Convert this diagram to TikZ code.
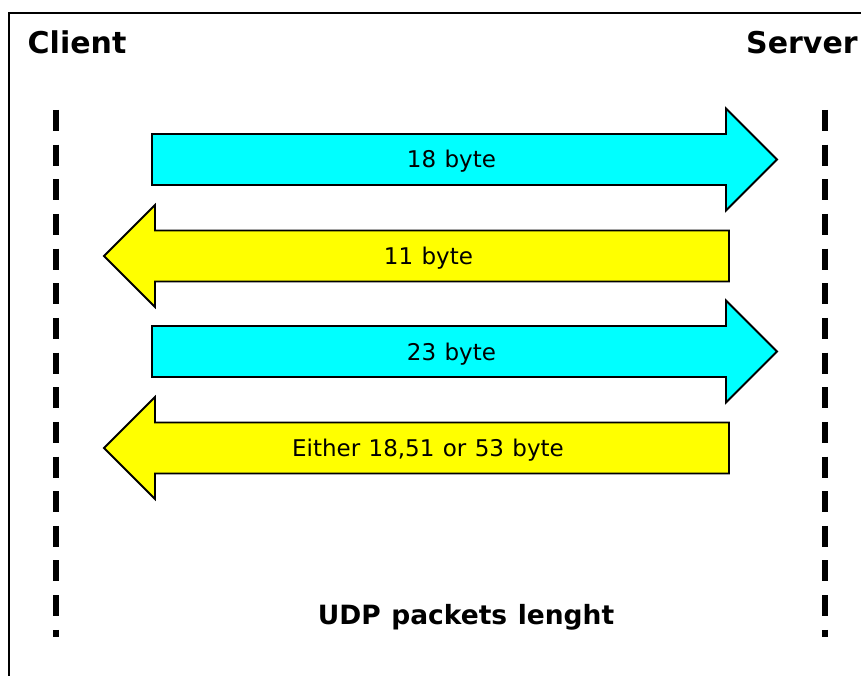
\documentclass[tikz,border=0pt]{standalone}
\usepackage{fontspec}
\setmainfont{DejaVu Sans}[WordSpace={1.15,1,1}]
\definecolor{pktcyan}{RGB}{0,255,255}
\definecolor{pktyellow}{RGB}{255,255,0}
\tikzset{
  frameline/.style={line width=2pt, draw=black},
  lifeline/.style={line width=5.5pt, draw=black, line cap=butt, dash pattern=on 21pt off 13.65pt},
  packet/.style={draw=black, line width=1.8pt, line join=miter},
  tocyan/.style={packet, fill=pktcyan},
  toyellow/.style={packet, fill=pktyellow},
  pktlabel/.style={anchor=base, inner sep=0pt, font=\fontsize{23}{27}\selectfont},
  endlabel/.style={anchor=base west, inner sep=0pt, font=\fontsize{30}{36}\selectfont\bfseries},
  caption/.style={anchor=base, inner sep=0pt, font=\fontsize{26.5}{32}\selectfont\bfseries}
}
\begin{document}
\begin{tikzpicture}[x=1pt, y=-1pt]
  \clip (0,0) rectangle (861,676);
  \fill[white] (0,0) rectangle (861,676);

  % outer frame (runs past the right and lower edges)
  \draw[frameline] (9,700) -- (9,13) -- (900,13);

  % end point titles
  \node[endlabel] (client) at (27.5,53.5) {Client};
  \node[endlabel] (server) at (746,53.5) {Server};

  % life lines
  \coordinate (ctop) at (56,110);
  \coordinate (cbot) at (56,637);
  \coordinate (stop) at (825,110);
  \coordinate (sbot) at (825,637);
  \draw[lifeline] (ctop) -- (cbot);
  \draw[lifeline] (stop) -- (sbot);

  % block arrows: body half height 25.5, head half height 51, head length 51
  % client -> server, 18 byte
  \draw[tocyan] (152,134) -- (726,134) -- (726,108.5) -- (777,159.5)
        -- (726,210.5) -- (726,185) -- (152,185) -- cycle;
  \node[pktlabel] (p1) at (451.5,168) {18 byte};

  % server -> client, 11 byte
  \draw[toyellow] (729,230.5) -- (155,230.5) -- (155,205) -- (104,256)
        -- (155,307) -- (155,281.5) -- (729,281.5) -- cycle;
  \node[pktlabel] (p2) at (428.5,264.5) {11 byte};

  % client -> server, 23 byte
  \draw[tocyan] (152,326) -- (726,326) -- (726,300.5) -- (777,351.5)
        -- (726,402.5) -- (726,377) -- (152,377) -- cycle;
  \node[pktlabel] (p3) at (451.5,360) {23 byte};

  % server -> client, variable reply
  \draw[toyellow] (729,422.5) -- (155,422.5) -- (155,397) -- (104,448)
        -- (155,499) -- (155,473.5) -- (729,473.5) -- cycle;
  \node[pktlabel] (p4) at (428,456.5) {Either 18,51 or 53 byte};

  % caption
  \node[caption] (cap) at (466,624) {UDP packets lenght};
\end{tikzpicture}
\end{document}
